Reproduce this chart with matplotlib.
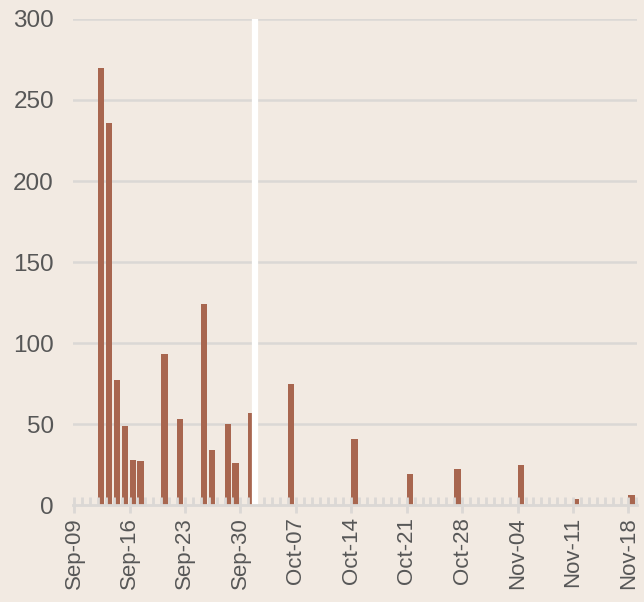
import numpy as np
import matplotlib
matplotlib.use('Agg')
import matplotlib.pyplot as plt
import matplotlib.dates as mdates
import pandas as pd

# daily counts
dates = ['2018-09-12', '2018-09-13', '2018-09-14', '2018-09-15', '2018-09-16', '2018-09-17',
         '2018-09-20', '2018-09-22', '2018-09-25', '2018-09-26', '2018-09-28', '2018-09-29',
         '2018-10-01', '2018-10-06', '2018-10-14', '2018-10-21', '2018-10-27', '2018-11-04',
         '2018-11-11', '2018-11-18']
counts = [270, 236, 77, 49, 28, 27,
          93, 53, 124, 34, 50, 26,
          57, 75, 41, 19, 22, 25,
          4, 6]
marker_date = '2018-10-01 19:30'
week_ticks = pd.date_range('2018-09-09', '2018-11-18', freq='7D')
y_ticks = [0, 50, 100, 150, 200, 250, 300]

bg = '#f2eae2'
bar_color = '#a8664f'
grid_color = '#dbd8d5'
text_color = '#575757'

plt.rcParams['font.family'] = ['Liberation Sans', 'DejaVu Sans']

fig = plt.figure(figsize=(6.44, 6.02), dpi=100, facecolor=bg)
ax = fig.add_axes([0.114, 0.161, 0.8747, 0.8075])
ax.set_facecolor(bg)

x = pd.to_datetime(dates)
for yv in y_ticks[1:]:
    ax.axhline(yv, color=grid_color, lw=1.8, zorder=0)

ax.bar(x, counts, width=0.8, align='edge', color=bar_color, zorder=2)
ax.vlines(pd.Timestamp(marker_date), 0, 300, color='white', lw=4.5, zorder=3)

ax.set_ylim(0, 300)
ax.set_xlim(pd.Timestamp('2018-09-09') - pd.Timedelta(hours=2), pd.Timestamp('2018-11-19') + pd.Timedelta(hours=1))
ax.set_yticks(y_ticks)
ax.set_xticks(week_ticks)
ax.xaxis.set_major_formatter(mdates.DateFormatter('%b-%d'))
ax.xaxis.set_minor_locator(mdates.DayLocator())

for side in ['top', 'right', 'left']:
    ax.spines[side].set_visible(False)
ax.spines['bottom'].set_color(grid_color)
ax.spines['bottom'].set_linewidth(2)
ax.spines['bottom'].set_zorder(4)
ax.set_axisbelow(False)

ax.tick_params(axis='y', length=0, pad=14, labelsize=17.5, labelcolor=text_color)
ax.tick_params(axis='x', which='major', direction='inout', length=11, width=2, color=grid_color,
               pad=3, labelsize=16, labelcolor=text_color, labelrotation=90)
ax.tick_params(axis='x', which='minor', direction='in', length=6, width=2, color=grid_color)

plt.savefig('out.png', dpi=100, facecolor=bg)
